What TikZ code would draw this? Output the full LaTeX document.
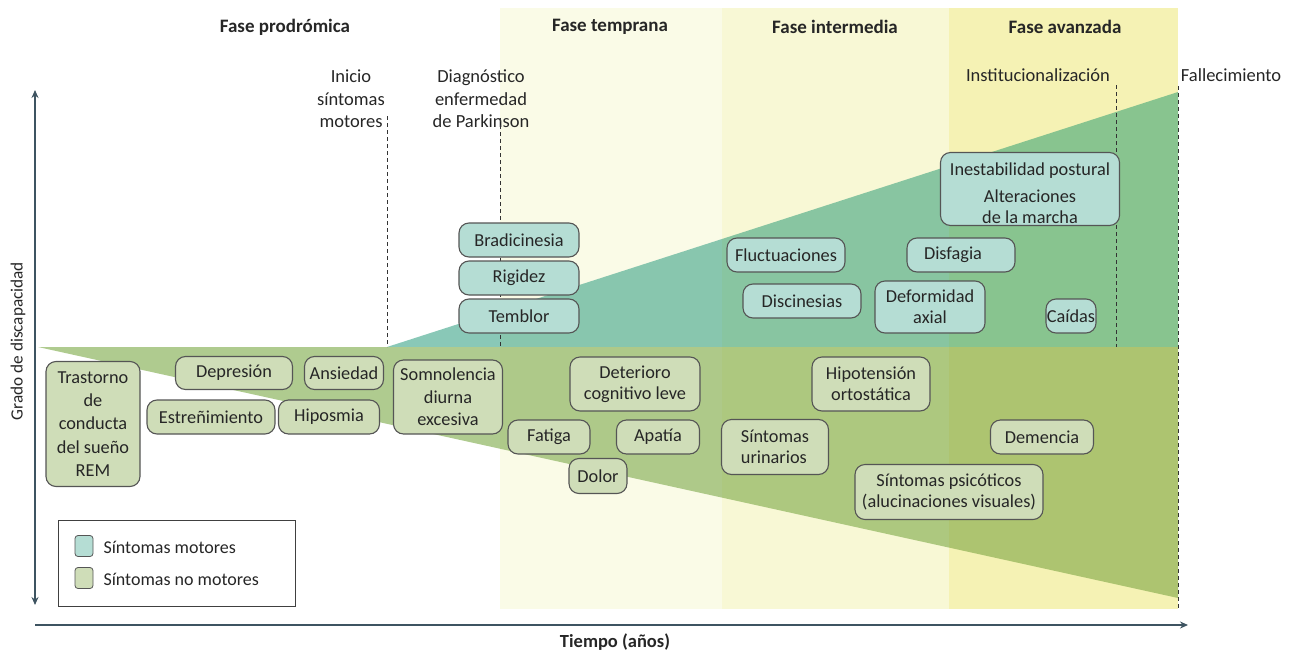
\documentclass[tikz,border=0pt]{standalone}
\usepackage{fontspec}
\setmainfont{Carlito}
\usetikzlibrary{arrows.meta}
\definecolor{bandA}{HTML}{FAFBE7}
\definecolor{bandB}{HTML}{F8F8D5}
\definecolor{bandC}{HTML}{F5F2B4}
\definecolor{tealO}{HTML}{89C8B7}
\definecolor{tealA}{HTML}{88C6AE}
\definecolor{tealB}{HTML}{88C5A1}
\definecolor{tealC}{HTML}{88C48F}
\definecolor{grnO}{HTML}{AFCB8F}
\definecolor{grnA}{HTML}{AEC989}
\definecolor{grnB}{HTML}{ADC87F}
\definecolor{grnC}{HTML}{ADC470}
\definecolor{motfill}{HTML}{B5DDD4}
\definecolor{nmfill}{HTML}{CFDDB8}
\definecolor{boxline}{HTML}{555555}
\definecolor{axiscol}{HTML}{3E5461}
\definecolor{txt}{HTML}{262626}
\tikzset{
  symbox/.style={draw=boxline, line width=1.1pt, rounded corners=10pt, align=center,
    inner sep=0pt, text=txt, font=\fontsize{18.3}{21}\selectfont},
  motbox/.style={symbox, fill=motfill},
  nmbox/.style={symbox, fill=nmfill},
  phase/.style={font=\fontsize{19}{22}\selectfont\bfseries, text=txt},
  evlabel/.style={font=\fontsize{18.5}{22.5}\selectfont, text=txt, align=center},
  evline/.style={draw=black!80, dashed, dash pattern=on 4pt off 3pt, line width=0.9pt},
  axisline/.style={draw=axiscol, line width=2pt},
  swatch/.style={draw=boxline, line width=0.8pt, rounded corners=3pt, minimum width=18pt, minimum height=21pt, inner sep=0pt}
}
\begin{document}
\begin{tikzpicture}[x=1pt,y=-1pt]
\useasboundingbox (0,0) rectangle (1298,653);
% phase bands
\fill[bandA] (500,8) rectangle (722,609);
\fill[bandB] (722,8) rectangle (949,609);
\fill[bandC] (949,8) rectangle (1178,609);
% triangles, tinted per band
\foreach \xa/\xb/\tc/\gc in {38/500/tealO/grnO, 500/722/tealA/grnA, 722/949/tealB/grnB, 949/1178/tealC/grnC}{
  \begin{scope}
    \clip (\xa,0) rectangle (\xb,653);
    \fill[\tc] (387,347) -- (1178,92) -- (1178,347) -- cycle;
    \fill[\gc] (38,347) -- (1178,347) -- (1178,598) -- cycle;
  \end{scope}
}
% phase titles
\node[phase] (pro) at (285,27) {Fase prodrómica};
\node[phase] (tem) at (610,27) {Fase temprana};
\node[phase] (int) at (835,27) {Fase intermedia};
\node[phase] (ava) at (1065,27) {Fase avanzada};
% event labels
\node[evlabel] (inicio) at (351,99) {Inicio\\síntomas\\motores};
\node[evlabel] (diag) at (481,99) {Diagnóstico\\enfermedad\\de Parkinson};
\node[evlabel] (inst) at (1038,75) {Institucionalización};
\node[evlabel] (fall) at (1231,75) {Fallecimiento};
% event lines
\coordinate (i1) at (387,116); \coordinate (i2) at (387,347);
\coordinate (d1) at (500,118); \coordinate (d2) at (500,347);
\coordinate (n1) at (1116,85); \coordinate (n2) at (1116,347);
\coordinate (f1) at (1178,86); \coordinate (f2) at (1178,609);
\draw[evline] (i1) -- (i2);
\draw[evline] (d1) -- (d2);
\draw[evline] (n1) -- (n2);
\draw[evline] (f1) -- (f2);
% axes
\coordinate (yt) at (35,90); \coordinate (yb) at (35,605);
\coordinate (xl) at (35,625); \coordinate (xr) at (1188,625);
\draw[axisline, {Stealth[length=8pt,width=7pt]}-{Stealth[length=8pt,width=7pt]}] (yt) -- (yb);
\draw[axisline, -{Stealth[length=8pt,width=7pt]}] (xl) -- (xr);
\node[rotate=90, font=\fontsize{17.2}{20}\selectfont, text=txt] (ylab) at (18,341) {Grado de discapacidad};
\node[font=\fontsize{18.5}{20}\selectfont\bfseries, text=txt] (xlab) at (615,642) {Tiempo (años)};
% motor symptoms
\node[motbox, minimum width=120pt, minimum height=34pt] (bra) at (519,240) {Bradicinesia};
\node[motbox, minimum width=120pt, minimum height=34pt] (rig) at (519,278) {Rigidez};
\node[motbox, minimum width=120pt, minimum height=34pt] (tre) at (519,316) {Temblor};
\node[motbox, minimum width=179pt, minimum height=73pt] (ine) at (1030,189) {\rule{0pt}{22pt}Inestabilidad postural\\[6pt]Alteraciones\\de la marcha};
\node[motbox, minimum width=118pt, minimum height=34pt] (flu) at (786,255) {Fluctuaciones};
\node[motbox, minimum width=108pt, minimum height=34pt] (dis) at (961,255) {Disfagia\hspace*{16pt}};
\node[motbox, minimum width=118pt, minimum height=34pt] (dsc) at (802,301) {Discinesias};
\node[motbox, minimum width=110pt, minimum height=52pt] (def) at (930,307) {Deformidad\\axial};
\node[motbox, minimum width=50pt, minimum height=34pt] (cai) at (1071,316) {Caídas};
% non-motor symptoms
\node[nmbox, minimum width=94pt, minimum height=125pt, font=\fontsize{18.3}{23.2}\selectfont] (rem) at (93,424) {Trastorno\\de\\conducta\\del sueño\\REM};
\node[nmbox, minimum width=117pt, minimum height=33pt] (dep) at (234,373) {Depresión};
\node[nmbox, minimum width=79pt, minimum height=33pt] (ans) at (344,373) {Ansiedad};
\node[nmbox, minimum width=128pt, minimum height=34pt] (est) at (211,417) {Estreñimiento};
\node[nmbox, minimum width=101pt, minimum height=34pt] (hip) at (329,417) {Hiposmia};
\node[nmbox, minimum width=109pt, minimum height=74pt, font=\fontsize{18.3}{22.5}\selectfont] (som) at (448,397) {Somnolencia\\diurna\\excesiva};
\node[nmbox, minimum width=130pt, minimum height=54pt] (det) at (635,384) {Deterioro\\cognitivo leve};
\node[nmbox, minimum width=82pt, minimum height=34pt] (fat) at (549,437) {Fatiga};
\node[nmbox, minimum width=83pt, minimum height=34pt] (apa) at (658,437) {Apatía};
\node[nmbox, minimum width=58pt, minimum height=35pt] (dol) at (598,476) {Dolor};
\node[nmbox, minimum width=118pt, minimum height=54pt] (hpo) at (871,384) {Hipotensión\\ortostática};
\node[nmbox, minimum width=107pt, minimum height=55pt, align=left] (uri) at (775,447) {Síntomas\\urinarios};
\node[nmbox, minimum width=188pt, minimum height=55pt] (psi) at (949,492) {Síntomas psicóticos\\(alucinaciones visuales)};
\node[nmbox, minimum width=103pt, minimum height=34pt] (dem) at (1042,437) {Demencia};
% legend
\node[draw=black!75, line width=0.8pt, minimum width=237pt, minimum height=86pt, inner sep=0pt] (leg) at (176.5,563) {};
\node[swatch, fill=motfill] (sw1) at (84,546) {};
\node[swatch, fill=nmfill] (sw2) at (84,578) {};
\node[anchor=west, font=\fontsize{18}{20}\selectfont, text=txt] (lg1) at (100,547) {Síntomas motores};
\node[anchor=west, font=\fontsize{18}{20}\selectfont, text=txt] (lg2) at (100,579) {Síntomas no motores};
\end{tikzpicture}
\end{document}
